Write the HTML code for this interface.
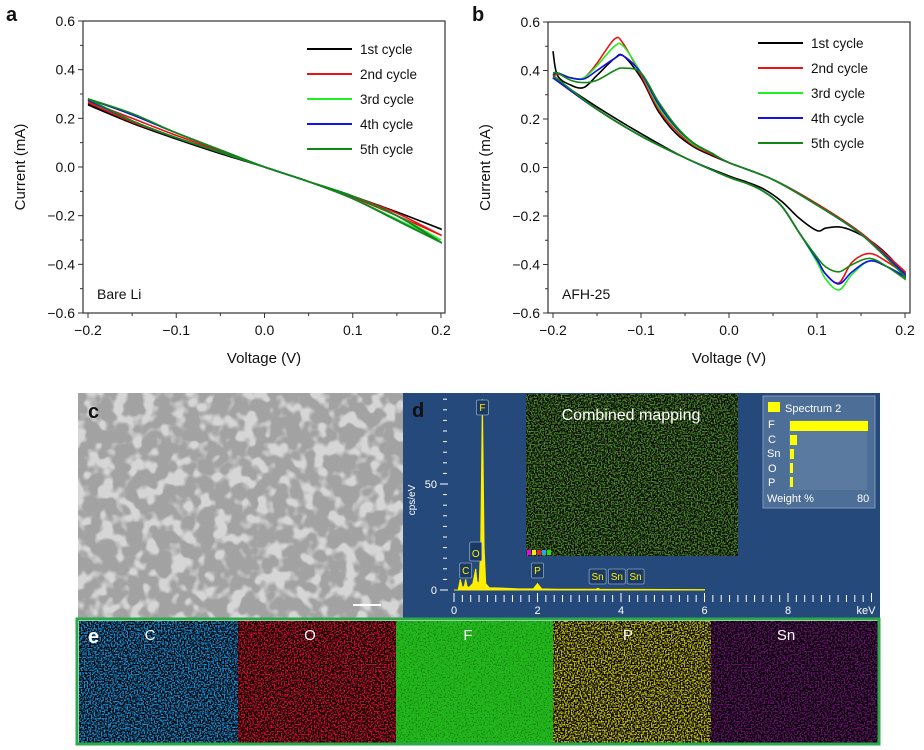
<!DOCTYPE html>
<html><head><meta charset="utf-8">
<style>
body{margin:0;background:#fff;width:924px;height:750px;overflow:hidden;font-family:"Liberation Sans",Arial,sans-serif;}
svg{position:absolute;left:0;top:0}
</style></head>
<body>
<svg id="fig" width="924" height="750" xmlns="http://www.w3.org/2000/svg">
<defs>
  <filter id="sem" x="0" y="0" width="100%" height="100%">
    <feTurbulence type="fractalNoise" baseFrequency="0.07" numOctaves="2" seed="3" result="t"/>
    <feColorMatrix in="t" type="matrix" values="0 0 0 0 0.70  0 0 0 0 0.70  0 0 0 0 0.70  0 0 0 6 -2.9" result="blob"/>
    <feTurbulence type="fractalNoise" baseFrequency="0.9" numOctaves="1" seed="5" result="n"/>
    <feColorMatrix in="n" type="matrix" values="0 0 0 0 0.5 0 0 0 0 0.5 0 0 0 0 0.5 0 0 0 0.3 0" result="grain"/>
    <feMerge><feMergeNode in="blob"/><feMergeNode in="grain"/></feMerge>
  </filter>
  <filter id="dark" x="0" y="0" width="100%" height="100%">
    <feTurbulence type="fractalNoise" baseFrequency="0.7" numOctaves="1" seed="7"/>
    <feColorMatrix type="matrix" values="0 0 0 0 0 0 0 0 0 0 0 0 0 0 0 0 0 0 5 -1.9"/>
  </filter>
  <filter id="dark2" x="0" y="0" width="100%" height="100%">
    <feTurbulence type="fractalNoise" baseFrequency="0.75" numOctaves="1" seed="13"/>
    <feColorMatrix type="matrix" values="0 0 0 0 0 0 0 0 0 0 0 0 0 0 0 0 0 0 4 -2.1"/>
  </filter>
  <filter id="speck2" x="0" y="0" width="100%" height="100%">
    <feTurbulence type="fractalNoise" baseFrequency="0.85" numOctaves="1" seed="11"/>
    <feColorMatrix type="matrix" values="0 0 0 0 0.85 0 0 0 0 0.25 0 0 0 0 0.1 0 0 0 5 -2.9"/>
  </filter>
</defs>
<g id="chartA"></g>
<g id="chartB"></g>

<g>
  <rect x="78" y="393" width="325" height="225" fill="#9e9e9e"/>
  <rect x="78" y="393" width="325" height="225" filter="url(#sem)"/>
  <rect x="353" y="604" width="28" height="2" fill="#fff"/>
  <text x="88" y="418" font-size="20" font-weight="bold" fill="#111">c</text>
</g>

<g id="chartD">
  <rect x="403" y="393" width="477" height="225" fill="#24497a"/>
  <g>
    <rect x="526" y="394" width="212" height="162" fill="#3f8a2a"/>
    <rect x="526" y="394" width="212" height="162" filter="url(#dark)"/>
    <rect x="526" y="394" width="212" height="162" filter="url(#speck2)" opacity="0.6"/>
    <text x="631" y="420" font-size="16" fill="#fff" text-anchor="middle">Combined mapping</text>
    <rect x="527" y="550" width="4" height="5" fill="#e0f"/><rect x="532" y="550" width="4" height="5" fill="#ee0"/><rect x="537" y="550" width="4" height="5" fill="#e23"/><rect x="542" y="550" width="4" height="5" fill="#2ae"/><rect x="547" y="550" width="4" height="5" fill="#2d2"/>
  </g>
  <g>
    <rect x="763" y="396" width="112" height="112" fill="#4d6e96" stroke="#7f97b5"/>
    <rect x="768" y="402" width="12" height="10" fill="#ff0"/>
    <text x="785" y="412" font-size="11" fill="#fff">Spectrum 2</text>
    <g font-size="11" fill="#fff">
      <text x="768" y="428">F</text><text x="768" y="443">C</text><text x="767" y="457">Sn</text><text x="768" y="472">O</text><text x="768" y="486">P</text>
      <text x="767" y="502">Weight %</text><text x="857" y="502">80</text>
    </g>
    <rect x="789" y="420" width="78" height="70" fill="#5a7aa0"/>
    <rect x="790" y="421" width="78" height="10" fill="#ff0"/>
    <rect x="790" y="435" width="7" height="10" fill="#ff0"/>
    <rect x="790" y="449" width="4" height="10" fill="#ff0"/>
    <rect x="790" y="463" width="3" height="10" fill="#ff0"/>
    <rect x="790" y="477" width="3" height="10" fill="#ff0"/>
  </g>
  <text x="412" y="417" font-size="20" font-weight="bold" fill="#111">d</text>
</g>

<g>
  <g><rect x="79" y="621" width="159" height="122" fill="#1c8ed6"/><rect x="79" y="621" width="159" height="122" filter="url(#dark)"/><text x="150" y="640" font-size="15" fill="#fff" text-anchor="middle">C</text></g>
  <g><rect x="238" y="621" width="158" height="122" fill="#d0102c"/><rect x="238" y="621" width="158" height="122" filter="url(#dark)"/><text x="310" y="640" font-size="15" fill="#fff" text-anchor="middle">O</text></g>
  <g><rect x="396" y="621" width="157" height="122" fill="#22b81c"/><rect x="396" y="621" width="157" height="122" filter="url(#dark2)" opacity="0.5"/><text x="468" y="640" font-size="15" fill="#fff" text-anchor="middle">F</text></g>
  <g><rect x="553" y="621" width="158" height="122" fill="#c8c020"/><rect x="553" y="621" width="158" height="122" filter="url(#dark)"/><text x="628" y="640" font-size="15" fill="#fff" text-anchor="middle">P</text></g>
  <g><rect x="711" y="621" width="167" height="122" fill="#a020a8"/><rect x="711" y="621" width="167" height="122" filter="url(#dark)"/><rect x="711" y="621" width="167" height="122" fill="#000" opacity="0.35"/><text x="786" y="640" font-size="15" fill="#fff" text-anchor="middle">Sn</text></g>
  <rect x="77" y="619" width="802" height="125" fill="none" stroke="#2aa84a" stroke-width="3"/>
  <text x="88" y="643" font-size="20" font-weight="bold" fill="#fff">e</text>
</g>
</svg>
<script>
const cycleNames = ["1st cycle","2nd cycle","3rd cycle","4th cycle","5th cycle"];
const cycleColors = ["#000000","#ee1111","#22ee22","#1111ee","#118811"];
const yTicks = [0.6,0.4,0.2,0.0,-0.2,-0.4,-0.6];
const yTickLabels = ["0.6","0.4","0.2","0.0","\u22120.2","\u22120.4","\u22120.6"];
const xTicks = [-0.2,-0.1,0,0.1,0.2];
const xTickLabels = ["\u22120.2","\u22120.1","0.0","0.1","0.2"];
const aVolt = [-0.2,-0.15,-0.1,-0.05,0,0.05,0.1,0.15,0.2];
const aUp1 = [0.26,0.185,0.12,0.06,0,-0.06,-0.12,-0.185,-0.255];
const aUp2 = [0.27,0.2,0.13,0.065,0,-0.06,-0.125,-0.2,-0.28];
const aUp3 = [0.28,0.215,0.14,0.07,0,-0.06,-0.13,-0.215,-0.3];
const aUp4 = [0.28,0.215,0.14,0.07,0,-0.06,-0.13,-0.22,-0.31];
const aUp5 = [0.28,0.22,0.14,0.07,0,-0.06,-0.13,-0.22,-0.31];
const aLo1 = [0.255,0.18,0.115,0.055,0,-0.06,-0.12,-0.185,-0.255];
const aLo2 = [0.265,0.185,0.12,0.06,0,-0.06,-0.12,-0.19,-0.28];
const aLo3 = [0.275,0.19,0.12,0.06,0,-0.06,-0.12,-0.2,-0.3];
const aLo4 = [0.275,0.19,0.12,0.06,0,-0.06,-0.12,-0.2,-0.31];
const aLo5 = [0.28,0.19,0.12,0.06,0,-0.06,-0.12,-0.2,-0.31];
const bVoltUp = [-0.2,-0.195,-0.18,-0.165,-0.15,-0.13,-0.12,-0.1,-0.08,-0.06,-0.04,-0.02,0,0.05,0.1,0.15,0.2];
const bUp1 = [0.48,0.38,0.34,0.33,0.38,0.45,0.46,0.37,0.23,0.14,0.085,0.05,0.02,-0.05,-0.15,-0.27,-0.43];
const bUp2 = [0.37,0.385,0.37,0.37,0.43,0.53,0.51,0.38,0.24,0.15,0.09,0.055,0.02,-0.05,-0.15,-0.27,-0.43];
const bUp3 = [0.38,0.39,0.37,0.37,0.42,0.50,0.50,0.39,0.25,0.16,0.095,0.06,0.02,-0.05,-0.155,-0.275,-0.44];
const bUp4 = [0.38,0.39,0.37,0.365,0.40,0.45,0.46,0.39,0.26,0.165,0.10,0.06,0.02,-0.05,-0.155,-0.275,-0.44];
const bUp5 = [0.39,0.39,0.36,0.35,0.36,0.40,0.41,0.39,0.27,0.17,0.10,0.06,0.02,-0.05,-0.155,-0.275,-0.45];
const bVoltLo = [0.2,0.18,0.16,0.14,0.125,0.11,0.1,0.08,0.06,0.04,0.02,0,-0.05,-0.1,-0.15,-0.2];
const bLo1 = [-0.44,-0.36,-0.30,-0.26,-0.245,-0.25,-0.26,-0.21,-0.14,-0.09,-0.06,-0.035,0.04,0.14,0.25,0.37];
const bLo2 = [-0.44,-0.39,-0.355,-0.39,-0.475,-0.44,-0.38,-0.27,-0.16,-0.1,-0.065,-0.04,0.04,0.13,0.24,0.37];
const bLo3 = [-0.45,-0.41,-0.385,-0.44,-0.505,-0.46,-0.39,-0.27,-0.16,-0.1,-0.065,-0.04,0.04,0.13,0.24,0.37];
const bLo4 = [-0.45,-0.41,-0.385,-0.43,-0.48,-0.44,-0.38,-0.27,-0.16,-0.1,-0.065,-0.04,0.04,0.13,0.24,0.37];
const bLo5 = [-0.46,-0.41,-0.375,-0.40,-0.43,-0.41,-0.37,-0.27,-0.16,-0.1,-0.065,-0.04,0.04,0.13,0.24,0.38];
const specE = [0,0.1,0.15,0.2,0.25,0.28,0.31,0.35,0.45,0.5,0.52,0.55,0.6,0.64,0.68,0.72,0.76,0.85,1.0,1.5,1.9,2.0,2.1,2.5,3.4,3.45,3.5,4.5,6.0];
const specC = [0,0,5,1,2,5,2,1,3,8,10,4,3,20,90,20,3,1,1,0.6,0.5,3,0.5,0.4,0.4,0.8,0.3,0.3,0.2];
const specTicks = [0,2,4,6,8];

const NS="http://www.w3.org/2000/svg";
function mk(tag,attrs,parent,txt){const e=document.createElementNS(NS,tag);for(const k in attrs)e.setAttribute(k,attrs[k]);if(txt!==undefined)e.textContent=txt;parent.appendChild(e);return e;}
function smooth(pts){let d="M"+pts[0][0]+","+pts[0][1];for(let i=0;i<pts.length-1;i++){const p0=pts[Math.max(0,i-1)],p1=pts[i],p2=pts[i+1],p3=pts[Math.min(pts.length-1,i+2)];const c1=[p1[0]+(p2[0]-p0[0])/6,p1[1]+(p2[1]-p0[1])/6],c2=[p2[0]-(p3[0]-p1[0])/6,p2[1]-(p3[1]-p1[1])/6];d+=" C"+c1[0].toFixed(1)+","+c1[1].toFixed(1)+" "+c2[0].toFixed(1)+","+c2[1].toFixed(1)+" "+p2[0].toFixed(1)+","+p2[1].toFixed(1);}return d;}

function drawCV(g,box,vx,branches,label,legendPos,panelLetter,letterX){
  const X=v=>box.x0+(v+0.2)/0.4*(box.x1-box.x0);
  const Y=c=>box.y0+(0.6-c)/1.2*(box.y1-box.y0);
  const frame=mk("rect",{x:box.l,y:box.y0,width:box.r-box.l,height:box.y1-box.y0,fill:"none",stroke:"#333","stroke-width":1.2},g);
  
  
  yTicks.forEach((t,i)=>{
    mk("line",{x1:box.l-5,x2:box.l,y1:Y(t),y2:Y(t),stroke:"#333"},g);
    const tl=mk("text",{x:box.l-8,y:Y(t)+5,"font-size":14,"text-anchor":"end",fill:"#111"},g,yTickLabels[i]);
    
    
    if(i<yTicks.length-1) mk("line",{x1:box.l-3,x2:box.l,y1:Y(t-0.1),y2:Y(t-0.1),stroke:"#333"},g);
  });
  xTicks.forEach((t,i)=>{
    mk("line",{x1:X(t),x2:X(t),y1:box.y1,y2:box.y1+5,stroke:"#333"},g);
    const tl=mk("text",{x:X(t),y:box.y1+22,"font-size":14,"text-anchor":"middle",fill:"#111"},g,xTickLabels[i]);
    
    
    if(i<xTicks.length-1) mk("line",{x1:X(t+0.05),x2:X(t+0.05),y1:box.y1,y2:box.y1+3,stroke:"#333"},g);
  });
  const xt=mk("text",{x:(box.l+box.r)/2,y:box.y1+50,"font-size":15,"text-anchor":"middle",fill:"#111"},g,"Voltage (V)");
  
  
  const cx=box.l-58, cy=(box.y0+box.y1)/2;
  const yt=mk("text",{x:cx,y:cy,"font-size":15,"text-anchor":"middle",fill:"#111",transform:"rotate(-90 "+cx+" "+cy+")"},g,"Current (mA)");
  
  
  const pl=mk("text",{x:letterX,y:21,"font-size":20,"font-weight":"bold",fill:"#111"},g,panelLetter);
  
  
  const sl=mk("text",{x:box.l+14,y:box.y1-14,"font-size":14,fill:"#111"},g,label);
  
  
  branches.forEach((br,i)=>{
    const pts1=br.up.map((c,k)=>[X(vx.up[k]),Y(c)]);
    const pts2=br.lo.map((c,k)=>[X(vx.lo[k]),Y(c)]);
    const p=mk("path",{d:smooth(pts1)+" "+smooth(pts2).replace("M","L"),fill:"none",stroke:cycleColors[i],"stroke-width":1.6},g);
    
    
  });
  cycleNames.forEach((n,i)=>{
    const y=legendPos.y+i*25;
    const lg=mk("g",{},g);
    
    
    mk("line",{x1:legendPos.x,x2:legendPos.x+45,y1:y,y2:y,stroke:cycleColors[i],"stroke-width":2},lg);
    mk("text",{x:legendPos.x+53,y:y+5,"font-size":13.5,fill:"#111"},lg,n);
  });
}
drawCV(document.getElementById("chartA"),{l:83,r:445,x0:88,x1:441,y0:21,y1:313},{up:aVolt,lo:aVolt.slice().reverse()},
 [{up:aUp1,lo:aLo1.slice().reverse()},{up:aUp2,lo:aLo2.slice().reverse()},{up:aUp3,lo:aLo3.slice().reverse()},{up:aUp4,lo:aLo4.slice().reverse()},{up:aUp5,lo:aLo5.slice().reverse()}],
 "Bare Li",{x:307,y:49},"a",6);
drawCV(document.getElementById("chartB"),{l:548,r:910,x0:553,x1:905,y0:22,y1:313},{up:bVoltUp,lo:bVoltLo},
 [{up:bUp1,lo:bLo1},{up:bUp2,lo:bLo2},{up:bUp3,lo:bLo3},{up:bUp4,lo:bLo4},{up:bUp5,lo:bLo5}],
 "AFH-25",{x:758,y:43},"b",472);

(function(){
  const g=document.getElementById("chartD");
  const X=e=>454+e*41.75, Y=c=>590-c*2.12;
  const ax=mk("g",{stroke:"#fff","stroke-width":1},g);
  
  
  mk("line",{x1:440,x2:448,y1:Y(0),y2:Y(0)},ax);
  mk("line",{x1:440,x2:448,y1:Y(50),y2:Y(50)},ax);
  for(let c=5;c<95;c+=5){ if(c%50) mk("line",{x1:443,x2:447,y1:Y(c),y2:Y(c)},ax); }
  for(let e=0;e<=10;e+=0.2){const big=Math.abs(e-Math.round(e/2)*2)<0.01; if(X(e)>878)break; mk("line",{x1:X(e),x2:X(e),y1:big?593:595,y2:602},ax);}
  const t=mk("text",{x:415,y:500,"font-size":10,fill:"#fff","text-anchor":"middle",transform:"rotate(-90 415 500)"},g,"cps/eV");
  
  
  mk("text",{x:437,y:488,"font-size":11,fill:"#fff","text-anchor":"end"},g,"50");
  mk("text",{x:437,y:594,"font-size":11,fill:"#fff","text-anchor":"end"},g,"0");
  specTicks.forEach(v=>{const l=mk("text",{x:X(v),y:614,"font-size":11,fill:"#fff","text-anchor":"middle"},g,String(v));});
  mk("text",{x:866,y:614,"font-size":11,fill:"#fff","text-anchor":"middle"},g,"keV");
  let d="M"+X(specE[0])+","+Y(0);
  specE.forEach((e,i)=>{d+=" L"+X(e).toFixed(1)+","+Math.max(395,Y(specC[i])).toFixed(1);});
  d+=" L"+X(specE[specE.length-1])+","+Y(0)+" Z";
  const sp=mk("path",{d:d,fill:"#ffee00",stroke:"#ffee00","stroke-width":1},g);
  
  
  const tags=[["F",0.68,400],["O",0.52,542],["C",0.28,563],["P",2.0,563],["Sn",3.44,569],["Sn",3.9,569],["Sn",4.35,569]];
  tags.forEach(tg=>{
    const w=tg[0]==="Sn"?17:12, h=tg[0]==="O"?19:15;
    const gg=mk("g",{},g);
    
    
    mk("rect",{x:X(tg[1])-w/2,y:tg[2],width:w,height:h,fill:"#1a3a63",stroke:"#8aa2c2","stroke-width":0.8,rx:1.5},gg);
    mk("text",{x:X(tg[1]),y:tg[2]+h-4,"font-size":10,fill:"#ffee00","text-anchor":"middle"},gg,tg[0]);
  });
})();
</script>
</body></html>
